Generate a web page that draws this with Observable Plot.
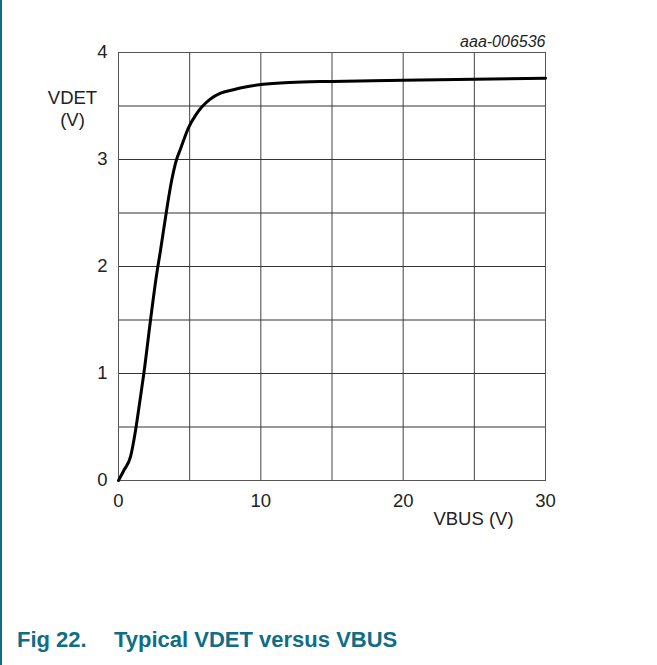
<!DOCTYPE html>
<html>
<head>
<meta charset="utf-8">
<script src="https://cdn.jsdelivr.net/npm/d3@7"></script>
<script src="https://cdn.jsdelivr.net/npm/@observablehq/plot@0.6"></script>
<style>
  html, body { margin: 0; padding: 0; background: #fff; }
  #wrap { position: relative; width: 657px; height: 665px; overflow: hidden; font-family: "Liberation Sans", Arial, sans-serif; }
  #border { position: absolute; left: 0; top: 0; width: 2px; height: 665px; background: #0f6e86; }
  #chart { position: absolute; left: 0; top: 0; }
  .cap { position: absolute; top: 627px; font-size: 22px; font-weight: bold; color: #0f6e86; white-space: nowrap; }
</style>
</head>
<body>
<div id="wrap">
  <div id="chart"></div>
  <div id="border"></div>
  <div class="cap" style="left:17px">Fig 22.</div>
  <div class="cap" style="left:114px">Typical VDET versus VBUS</div>
</div>
<script>
// VBUS (V)
const vbus = [0, 0.4, 0.84, 1.2, 1.5, 1.78, 2.25, 2.65, 2.95, 3.35, 3.7, 4.08, 4.36, 4.93, 5.4, 5.85, 6.4, 7.17, 8, 9, 10, 12, 15, 20, 25, 30];
// VDET (V)
const vdet = [0, 0.1, 0.22, 0.47, 0.74, 1.0, 1.5, 1.9, 2.15, 2.5, 2.78, 3.0, 3.1, 3.3, 3.41, 3.49, 3.56, 3.62, 3.65, 3.68, 3.70, 3.72, 3.73, 3.74, 3.75, 3.76];
const xTicks = [0, 10, 20, 30];
const yTicks = [0, 1, 2, 3, 4];
const xGrid = [0, 5, 10, 15, 20, 25, 30];
const yGrid = [0, 0.5, 1, 1.5, 2, 2.5, 3, 3.5, 4];
const xLabel = "VBUS (V)";
const yLabel = "VDET\n(V)";
const figId = "aaa-006536";

const data = vbus.map((v, i) => ({x: v, y: vdet[i]}));

const chart = Plot.plot({
  width: 657,
  height: 560,
  marginLeft: 118,
  marginRight: 112,
  marginTop: 52,
  marginBottom: 80,
  style: {fontFamily: "Liberation Sans, Arial, sans-serif", fontSize: "18.5px", color: "#222", background: "transparent"},
  x: {domain: [0, 30]},
  y: {domain: [0, 4]},
  marks: [
    Plot.ruleX(xGrid, {stroke: "#444", strokeWidth: 1}),
    Plot.ruleY(yGrid, {stroke: "#333", strokeWidth: 1}),
    Plot.frame({stroke: "#555", strokeWidth: 1}),
    Plot.axisX({ticks: xTicks, tickSize: 0, tickPadding: 13, label: null, fontSize: 18.5, tickFormat: d => String(d)}),
    Plot.axisY({ticks: yTicks, tickSize: 0, tickPadding: 11, label: null, fontSize: 18.5, tickFormat: d => String(d)}),
    Plot.line(data, {x: "x", y: "y", stroke: "#000", strokeWidth: 3, curve: "monotone-x"}),
    Plot.text([yLabel], {frameAnchor: "top-left", dx: -46, dy: 36, textAnchor: "middle", lineAnchor: "top", lineHeight: 1.2, fontSize: 18.5, fill: "#222"}),
    Plot.text([xLabel], {frameAnchor: "bottom-right", dx: -72, dy: 44, textAnchor: "middle", lineAnchor: "bottom", fontSize: 18.5, fill: "#222"}),
    Plot.text([figId], {frameAnchor: "top-right", dy: -6, textAnchor: "end", lineAnchor: "bottom", fontSize: 16, fontStyle: "italic", fill: "#222"})
  ]
});
document.getElementById("chart").appendChild(chart);
</script>
</body>
</html>
